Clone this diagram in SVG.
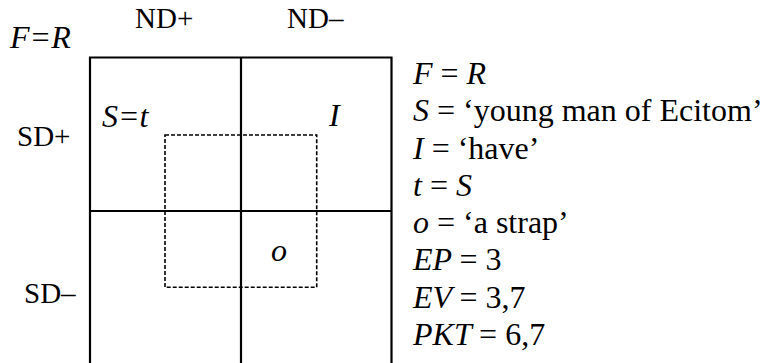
<svg xmlns="http://www.w3.org/2000/svg" width="766" height="363" viewBox="0 0 766 363">
<style>
.lbl{font-family:"Liberation Serif","Times New Roman",serif;font-size:29px;fill:#000}
.it{font-family:"Liberation Serif","Times New Roman",serif;font-size:32px;font-style:italic;fill:#000}
.rm{font-style:normal}
.grid{stroke:#000;stroke-width:2.2;fill:none}
.dash{stroke:#000;stroke-width:1.6;fill:none;stroke-dasharray:4 2}
</style>
<rect width="766" height="363" fill="#fff"/>
<g id="grid">
<path class="grid" d="M90 364 V57.5 H391.5 V364 M241 57.5 V364 M90 211 H391.5"/>
</g>
<g id="focus">
<rect class="dash" x="165" y="135" width="151.7" height="152.3"/>
</g>
<g id="labels">
<text class="it" x="10" y="48">F=R</text>
<text class="lbl" x="135" y="28">ND+</text>
<text class="lbl" x="287" y="28">ND–</text>
<text class="lbl" x="17" y="146">SD+</text>
<text class="lbl" x="24" y="303">SD–</text>
</g>
<g id="cells">
<text class="it" x="102" y="127">S=t</text>
<text class="it" x="329" y="126">I</text>
<text class="it" x="271" y="261">o</text>
</g>
<g id="legend">
<text class="it" x="413" y="84">F <tspan class="rm">=</tspan> R</text>
<text class="it" x="413" y="121.3">S <tspan class="rm">= ‘young man of Ecitom’</tspan></text>
<text class="it" x="413" y="158.6">I <tspan class="rm">= ‘have’</tspan></text>
<text class="it" x="413" y="195.9">t <tspan class="rm">=</tspan> S</text>
<text class="it" x="413" y="233.1">o <tspan class="rm">= ‘a strap’</tspan></text>
<text class="it" x="413" y="270.4">EP <tspan class="rm">= 3</tspan></text>
<text class="it" x="413" y="307.7">EV <tspan class="rm">= 3,7</tspan></text>
<text class="it" x="413" y="345">PKT <tspan class="rm">= 6,7</tspan></text>
</g>
</svg>
